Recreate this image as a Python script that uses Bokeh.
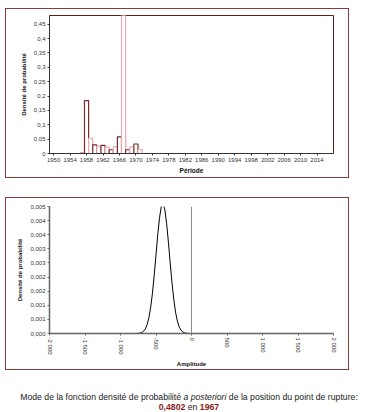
from bokeh.plotting import figure
from bokeh.models import Range1d, FixedTicker, Div, Spacer, Span
from bokeh.layouts import column
from bokeh.embed import file_html
from bokeh.resources import INLINE

# ---------------- data: top chart (posterior of break position) ----------------
years = [1957, 1958, 1959, 1960, 1961, 1962, 1963, 1964, 1965, 1966, 1967, 1968, 1969, 1970, 1971]
density = [0.003, 0.184, 0.053, 0.030, 0.026, 0.028, 0.023, 0.013, 0.023, 0.058, 0.4802, 0.013, 0.023, 0.033, 0.014]
period_ticks = [1950, 1954, 1958, 1962, 1966, 1970, 1974, 1978, 1982, 1986, 1990, 1994, 1998, 2002, 2006, 2010, 2014]
period_labels = ["1950", "1954", "1958", "1962", "1966", "1970", "1974", "1978", "1982", "1986",
                 "1990", "1994", "1998", "2002", "2006", "2010", "2014"]
density_ticks = [0, 0.05, 0.1, 0.15, 0.2, 0.25, 0.3, 0.35, 0.4, 0.45]
density_labels = ["0", "0,05", "0,1", "0,15", "0,2", "0,25", "0,3", "0,35", "0,4", "0,45"]

# ---------------- data: bottom chart (posterior of amplitude) ----------------
amplitude = [-850, -825, -800, -775, -750, -725, -700, -675, -650, -625, -600, -575, -550, -525,
             -500, -475, -450, -425, -405, -400, -375, -350, -325, -300, -275, -250, -225, -200,
             -175, -150, -125, -100, -75, -50, -25]
amp_density = [0.0, 0.0, 0.000001, 0.000002, 0.000006, 0.000016, 0.000037, 0.000081, 0.000165,
               0.000315, 0.00056, 0.00093, 0.00143, 0.00207, 0.00279, 0.00351, 0.00411, 0.00450,
               0.00460, 0.00459, 0.00438, 0.00389, 0.00323, 0.00250, 0.00180, 0.00122, 0.00076,
               0.00045, 0.000246, 0.000126, 0.00006, 0.000027, 0.000011, 0.000004, 0.000001]
amp_ticks = [-2000, -1500, -1000, -500, 0, 500, 1000, 1500, 2000]
amp_labels = ["-2\u00a0000", "-1\u00a0500", "-1\u00a0000", "-500", "0", "500", "1\u00a0000", "1\u00a0500", "2\u00a0000"]
amp_y_ticks = [0, 0.0005, 0.001, 0.0015, 0.002, 0.0025, 0.003, 0.0035, 0.004, 0.0045]
amp_y_labels = ["0,000", "0,001", "0,001", "0,002", "0,002", "0,003", "0,003", "0,004", "0,004", "0,005"]

FONT = "Liberation Sans"
FRAME = "1px solid #8b3a3a"
DARK = "#7a2a2a"
PINK = "#e6a9b1"


def style_axis(ax, color="#333333", width=1):
    ax.axis_line_color = color
    ax.axis_line_width = width
    ax.major_tick_line_color = color
    ax.major_tick_in = 0
    ax.major_tick_out = 2
    ax.minor_tick_line_color = None
    ax.major_label_text_font = FONT
    ax.major_label_text_font_size = "6px"
    ax.major_label_text_color = "#333333"
    ax.major_label_standoff = 2
    ax.axis_label_text_font = FONT
    ax.axis_label_text_font_size = "6px"
    ax.axis_label_text_font_style = "bold"
    ax.axis_label_text_color = "#111111"
    ax.axis_label_standoff = 4


# ---------------- top figure ----------------
p1 = figure(width=342, height=168, output_backend="svg", toolbar_location=None,
            x_range=Range1d(1949, 2018), y_range=Range1d(0, 0.48),
            min_border_left=28, min_border_right=15, min_border_top=6, min_border_bottom=24,
            styles={"outline": FRAME})
p1.grid.grid_line_color = None
p1.outline_line_color = "#5a2020"
p1.outline_line_width = 1
bar_colors = [DARK if y % 2 == 0 else PINK for y in years]
p1.vbar(x=years, top=density, width=1.0, bottom=0, fill_color="white",
        line_color=bar_colors, line_width=1.2)
style_axis(p1.xaxis[0])
style_axis(p1.yaxis[0])
p1.xaxis[0].ticker = FixedTicker(ticks=period_ticks)
p1.xaxis[0].major_label_overrides = dict(zip(period_ticks, period_labels))
p1.yaxis[0].ticker = FixedTicker(ticks=density_ticks)
p1.yaxis[0].major_label_overrides = dict(zip(density_ticks, density_labels))
p1.xaxis[0].axis_label = "Période"
p1.yaxis[0].axis_label = "Densité de probabilité"
p1.xaxis[0].axis_label_standoff = 2
p1.xaxis[0].axis_label_text_font_size = "6.5px"

# ---------------- bottom figure ----------------
p2 = figure(width=342, height=171, output_backend="svg", toolbar_location=None,
            x_range=Range1d(-2000, 2000), y_range=Range1d(0, 0.0045),
            min_border_left=43, min_border_right=15, min_border_top=8, min_border_bottom=34,
            styles={"outline": FRAME})
p2.grid.grid_line_color = None
p2.outline_line_color = None
p2.add_layout(Span(location=0, dimension="height", line_color="#8c8c8c", line_width=1))
p2.line(amplitude, amp_density, line_color="black", line_width=1)
style_axis(p2.xaxis[0], color="#666666", width=1.5)
style_axis(p2.yaxis[0], color="#666666", width=1.5)
p2.xaxis[0].ticker = FixedTicker(ticks=amp_ticks)
p2.xaxis[0].major_label_overrides = dict(zip(amp_ticks, amp_labels))
p2.xaxis[0].major_label_orientation = "vertical"
p2.yaxis[0].ticker = FixedTicker(ticks=amp_y_ticks)
p2.yaxis[0].major_label_overrides = dict(zip(amp_y_ticks, amp_y_labels))
p2.xaxis[0].axis_label = "Amplitude"
p2.yaxis[0].axis_label = "Densité de probabilité"
p2.xaxis[0].axis_label_standoff = 3

caption = Div(
    text=("Mode de la fonction densité de probabilité <i>a posteriori</i> de la position du point de rupture:<br>"
          "<b style='color:#8b1a1a'>0,4802</b> en <b style='color:#8b1a1a'>1967</b>"),
    width=356, height=22,
    styles={"font-family": FONT, "font-size": "8.7px", "line-height": "10px",
            "color": "#222222", "text-align": "center", "white-space": "nowrap"},
)

layout = column(p1, Spacer(height=21), p2, Spacer(height=18), caption,
                styles={"position": "absolute", "left": "6px", "top": "9px"})

open("out.html", "w").write(file_html(layout, INLINE))
